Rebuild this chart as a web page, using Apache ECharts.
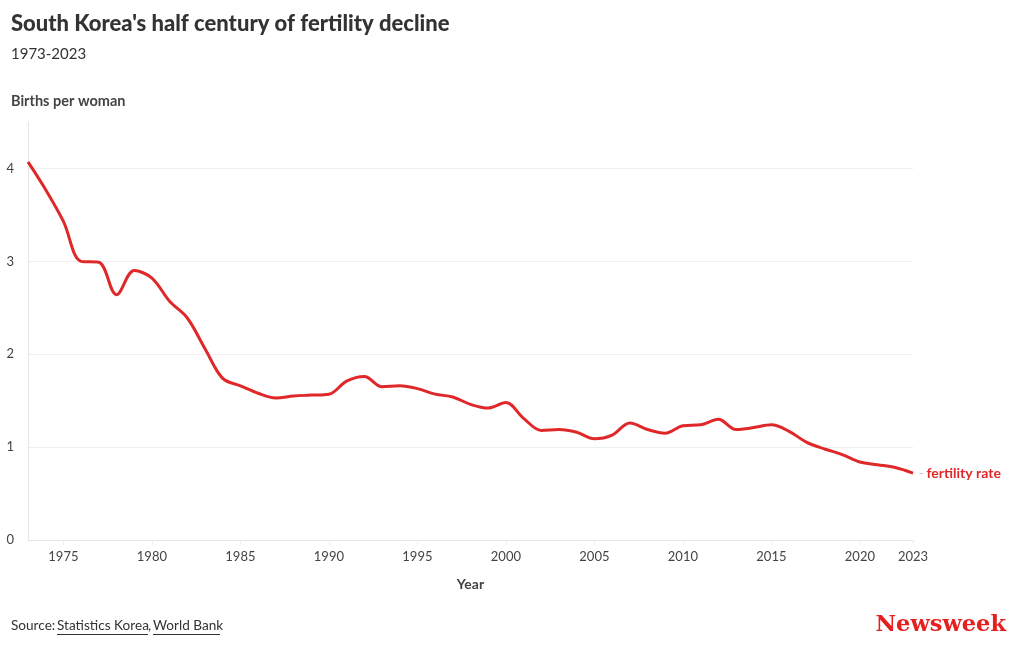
<!DOCTYPE html>
<html><head><meta charset="utf-8">
<script src="https://cdn.jsdelivr.net/npm/echarts@6/dist/echarts.min.js"></script>
<style>html,body{margin:0;padding:0;background:#fff}#c{width:1020px;height:650px}</style>
</head><body><div id="c"></div>
<script>
const years = [1973,1974,1975,1976,1977,1978,1979,1980,1981,1982,1983,1984,1985,1986,1987,1988,1989,1990,1991,1992,1993,1994,1995,1996,1997,1998,1999,2000,2001,2002,2003,2004,2005,2006,2007,2008,2009,2010,2011,2012,2013,2014,2015,2016,2017,2018,2019,2020,2021,2022,2023];
const fertilityRate = [4.07,3.77,3.43,3.00,2.99,2.64,2.90,2.82,2.57,2.39,2.06,1.74,1.66,1.58,1.53,1.55,1.56,1.57,1.71,1.76,1.65,1.66,1.63,1.57,1.54,1.46,1.42,1.48,1.31,1.18,1.19,1.16,1.09,1.13,1.26,1.19,1.15,1.23,1.24,1.30,1.19,1.21,1.24,1.17,1.05,0.98,0.92,0.84,0.81,0.78,0.72];
const yTicks = [0,1,2,3,4];
const seriesName = 'fertility rate';
const FONT = 'Lato';
const chart = echarts.init(document.getElementById('c'));
const labelYears = years.filter(y => y % 5 === 0 || y === 2023);
chart.setOption({
  animation: false,
  textStyle: {fontFamily: FONT},
  title: [
    {text: "South Korea's half century of fertility decline", left: 11, top: 13, padding: 0,
     textStyle: {fontFamily: FONT, fontWeight: 900, fontSize: 22, color: '#333'}},
    {text: '1973-2023', left: 11, top: 47, padding: 0, textStyle: {fontFamily: FONT, fontWeight: 'normal', fontSize: 15, color: '#333'}},
    {text: 'Births per woman', left: 11, top: 94, padding: 0, textStyle: {fontFamily: FONT, fontWeight: 'bold', fontSize: 14.5, color: '#444'}},
    {text: 'Newsweek', right: 14, top: 614, padding: 0, textStyle: {fontFamily: 'DejaVu Serif', fontWeight: 'bold', fontSize: 22.5, color: '#e5201f', letterSpacing: -1}}
  ],
  grid: {left: 28, right: 107, top: 122, bottom: 110, containLabel: false},
  xAxis: {
    type: 'category', data: years.map(String), boundaryGap: false,
    name: 'Year', nameLocation: 'middle', nameGap: 37,
    nameTextStyle: {fontFamily: FONT, fontWeight: 'bold', fontSize: 14, color: '#444'},
    axisLine: {lineStyle: {color: '#e6e6e6'}},
    axisTick: {show: true, length: 5, lineStyle: {color: '#eeeeee'}, interval: (i, v) => labelYears.includes(+v)},
    axisLabel: {color: '#444', fontSize: 13, margin: 10, interval: (i, v) => labelYears.includes(+v)}
  },
  yAxis: {
    type: 'value', min: 0, max: 4.5, interval: 1,
    axisLine: {show: true, lineStyle: {color: '#e6e6e6'}},
    axisTick: {show: false},
    axisLabel: {color: '#444', fontSize: 13, margin: 14, formatter: v => yTicks.includes(v) ? String(v) : ''},
    splitLine: {show: true, showMaxLine: false, lineStyle: {color: '#eeeeee'}}
  },
  series: [{
    name: seriesName, type: 'line', data: fertilityRate, smooth: 0.35,
    showSymbol: false, symbol: 'none',
    lineStyle: {color: '#e0282a', width: 3},
    endLabel: {show: true, distance: 6,
      formatter: '{d|-} {t|' + seriesName + '}',
      rich: {d: {color: '#bbb', fontSize: 12, fontFamily: FONT}, t: {color: '#e0282a', fontSize: 14, fontWeight: 'bold', fontFamily: FONT}}}
  }],
  graphic: [
    {type: 'text', left: 11, top: 619, style: {text: 'Source:', fill: '#333', font: '13.6px ' + FONT}},
    {type: 'text', left: 57, top: 619, style: {text: 'Statistics Korea', fill: '#333', font: '13.6px ' + FONT}},
    {type: 'text', left: 148, top: 619, style: {text: ',', fill: '#333', font: '13.6px ' + FONT}},
    {type: 'text', left: 153, top: 619, style: {text: 'World Bank', fill: '#333', font: '13.6px ' + FONT}},
    {type: 'line', shape: {x1: 57, y1: 634.5, x2: 148, y2: 634.5}, style: {stroke: '#333', lineWidth: 1}},
    {type: 'line', shape: {x1: 153, y1: 634.5, x2: 220, y2: 634.5}, style: {stroke: '#333', lineWidth: 1}}
  ]
});
</script></body></html>
